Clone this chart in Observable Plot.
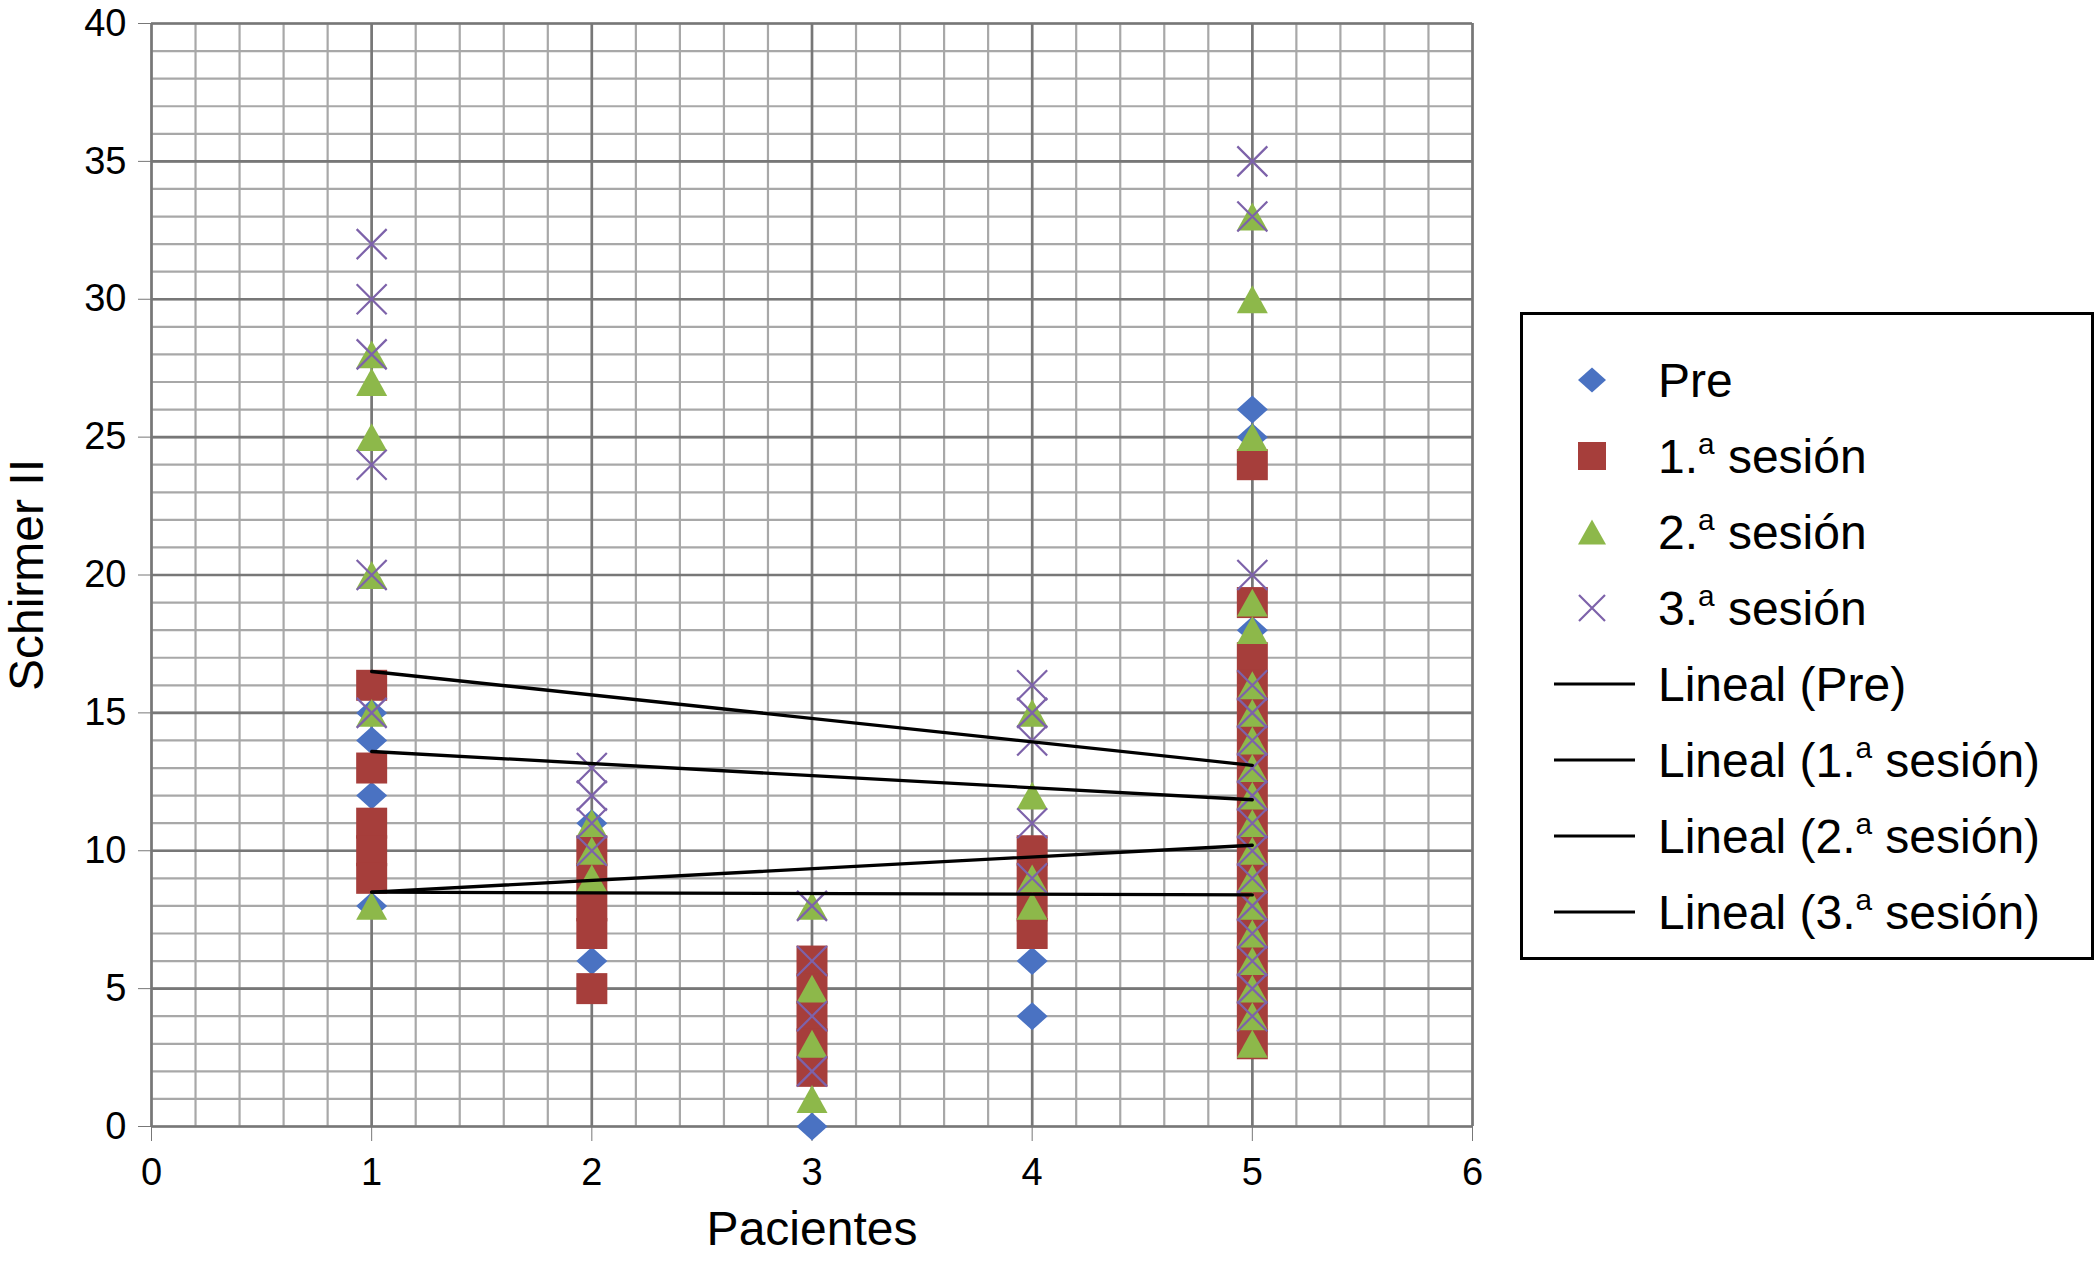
<!DOCTYPE html>
<html>
<head>
<meta charset="utf-8">
<script src="https://cdn.jsdelivr.net/npm/d3@7"></script>
<script src="https://cdn.jsdelivr.net/npm/@observablehq/plot@0.6"></script>
<style>
  body { margin: 0; background: #fff; font-family: "Liberation Sans", Arial, sans-serif; }
  #chart { position: relative; width: 2097px; height: 1261px; }
  #legend {
    position: absolute; left: 1520px; top: 312px; width: 574px; height: 648px;
    box-sizing: border-box; border: 3px solid #000; background: #fff;
    padding-top: 27px;
  }
  .row { display: flex; align-items: center; height: 76px; font-size: 48px; color: #000; }
  .row svg { flex: none; }
  .row sup { font-size: 0.62em; vertical-align: 0.65em; line-height: 0; }
</style>
</head>
<body>
<div id="chart"><div id="legend"></div></div>
<script>
// Pacientes y valores Schirmer II
const pacientes = [1, 2, 3, 4, 5];
const pre      = [[15, 14, 12, 8], [11, 6], [0], [6, 4], [26, 25, 18]];
const sesion1  = [[16, 13, 11, 10, 9], [10, 9, 8, 7, 5], [6, 5, 4, 3, 2], [10, 9, 8, 7],
                  [24, 19, 17, 16, 15, 14, 13, 12, 11, 10, 9, 8, 7, 6, 5, 4, 3]];
const sesion2  = [[28, 27, 25, 20, 15, 8], [11, 10, 9], [8, 5, 3, 1], [15, 12, 9, 8],
                  [33, 30, 25, 19, 18, 16, 15, 14, 13, 12, 11, 10, 9, 8, 7, 6, 5, 4, 3]];
const sesion3  = [[32, 30, 28, 24, 20, 15], [13, 12, 11, 10], [8, 6, 4, 2], [16, 15, 14, 11, 9],
                  [35, 33, 20, 16, 15, 14, 13, 12, 11, 10, 9, 8, 7, 6, 5, 4]];

// lineas de tendencia (Lineal), extremos en paciente 1 y 5
const trendX   = [1, 5];
const trendPre = [16.5, 13.1];
const trend1   = [13.6, 11.85];
const trend2   = [8.5, 10.2];
const trend3   = [8.5, 8.4];

const xTicks = [0, 1, 2, 3, 4, 5, 6];
const yTicks = [0, 5, 10, 15, 20, 25, 30, 35, 40];

const colors = {pre: "#4a72c2", s1: "#a63e3b", s2: "#8db84a", s3: "#7d62aa"};

// simbolos estilo Excel (r = semiancho en px)
const path = {
  diamond: r => `M0,${-0.9 * r}L${r},0L0,${0.9 * r}L${-r},0Z`,
  square: r => `M${-r},${-r}H${r}V${r}H${-r}Z`,
  triangle: r => `M0,${-0.9 * r}L${r},${0.9 * r}H${-r}Z`,
  times: r => `M${-r},${-r}L${r},${r}M${r},${-r}L${-r},${r}`
};
function symbolFrom(kind) {
  return {
    draw(ctx, size) {
      const r = Math.sqrt(size / Math.PI);
      if (kind === "diamond") { ctx.moveTo(0, -0.9 * r); ctx.lineTo(r, 0); ctx.lineTo(0, 0.9 * r); ctx.lineTo(-r, 0); ctx.closePath(); }
      if (kind === "square") { ctx.moveTo(-r, -r); ctx.lineTo(r, -r); ctx.lineTo(r, r); ctx.lineTo(-r, r); ctx.closePath(); }
      if (kind === "triangle") { ctx.moveTo(0, -0.9 * r); ctx.lineTo(r, 0.9 * r); ctx.lineTo(-r, 0.9 * r); ctx.closePath(); }
      if (kind === "times") { ctx.moveTo(-r, -r); ctx.lineTo(r, r); ctx.moveTo(r, -r); ctx.lineTo(-r, r); }
    }
  };
}

const toPoints = series => pacientes.flatMap((p, i) => series[i].map(v => ({x: p, y: v})));
const toTrend = (vals, name) => trendX.map((x, i) => ({x, y: vals[i], serie: name}));
const trends = [
  ...toTrend(trendPre, "Pre"), ...toTrend(trend1, "1"),
  ...toTrend(trend2, "2"), ...toTrend(trend3, "3")
];

const xMinor = d3.range(0, 31).map(i => i / 5);
const yMinor = d3.range(0, 41);

const chart = Plot.plot({
  width: 2097,
  height: 1261,
  marginLeft: 151,
  marginRight: 625,
  marginTop: 23,
  marginBottom: 135,
  style: {fontFamily: "'Liberation Sans', Arial, sans-serif", background: "#fff", color: "#000"},
  x: {domain: [0, 6]},
  y: {domain: [0, 40]},
  marks: [
    Plot.ruleX(xMinor, {stroke: "#a8a8a8", strokeWidth: 2.2}),
    Plot.ruleY(yMinor, {stroke: "#a8a8a8", strokeWidth: 2.2}),
    Plot.ruleX(xTicks, {stroke: "#777", strokeWidth: 2.6}),
    Plot.ruleY(yTicks, {stroke: "#777", strokeWidth: 2.6}),
    Plot.axisY({ticks: yTicks, tickFormat: "d", tickSize: 13, tickPadding: 12, fontSize: 38, label: null, stroke: "#777"}),
    Plot.axisX({ticks: xTicks, tickFormat: "d", tickSize: 15, tickPadding: 17, fontSize: 38, label: null, stroke: "#777"}),
    Plot.text(["Schirmer II"], {frameAnchor: "left", dx: -124, rotate: -90, textAnchor: "middle", fontSize: 48}),
    Plot.text(["Pacientes"], {frameAnchor: "bottom", dy: 118, textAnchor: "middle", fontSize: 48}),
    Plot.dot(toPoints(pre), {x: "x", y: "y", symbol: symbolFrom("diamond"), r: 15.5, fill: colors.pre, stroke: "none"}),
    Plot.dot(toPoints(sesion1), {x: "x", y: "y", symbol: symbolFrom("square"), r: 15.5, fill: colors.s1, stroke: "none"}),
    Plot.dot(toPoints(sesion2), {x: "x", y: "y", symbol: symbolFrom("triangle"), r: 15.5, fill: colors.s2, stroke: "none"}),
    Plot.dot(toPoints(sesion3), {x: "x", y: "y", symbol: symbolFrom("times"), r: 15, fill: "none", stroke: colors.s3, strokeWidth: 2.2}),
    Plot.line(trends, {x: "x", y: "y", z: "serie", stroke: "#000", strokeWidth: 3.3})
  ]
});

d3.select("#chart").insert(() => chart, "#legend");

// leyenda
const legendItems = [
  {kind: "diamond", color: colors.pre, html: "Pre"},
  {kind: "square", color: colors.s1, html: "1.<sup>a</sup> sesión"},
  {kind: "triangle", color: colors.s2, html: "2.<sup>a</sup> sesión"},
  {kind: "times", color: colors.s3, html: "3.<sup>a</sup> sesión"},
  {kind: "line", html: "Lineal (Pre)"},
  {kind: "line", html: "Lineal (1.<sup>a</sup> sesión)"},
  {kind: "line", html: "Lineal (2.<sup>a</sup> sesión)"},
  {kind: "line", html: "Lineal (3.<sup>a</sup> sesión)"}
];
const rows = d3.select("#legend").selectAll("div").data(legendItems).join("div").attr("class", "row");
const sw = rows.append("svg").attr("width", 135).attr("height", 76);
sw.each(function(d) {
  const g = d3.select(this).append("g").attr("transform", "translate(69,38)");
  if (d.kind === "line") {
    g.append("line").attr("x1", -38).attr("x2", 43).attr("stroke", "#000").attr("stroke-width", 3);
  } else if (d.kind === "times") {
    g.append("path").attr("d", path.times(13)).attr("fill", "none").attr("stroke", d.color).attr("stroke-width", 2.2);
  } else {
    g.append("path").attr("d", path[d.kind](14)).attr("fill", d.color);
  }
});
rows.append("span").html(d => d.html);
</script>
</body>
</html>
